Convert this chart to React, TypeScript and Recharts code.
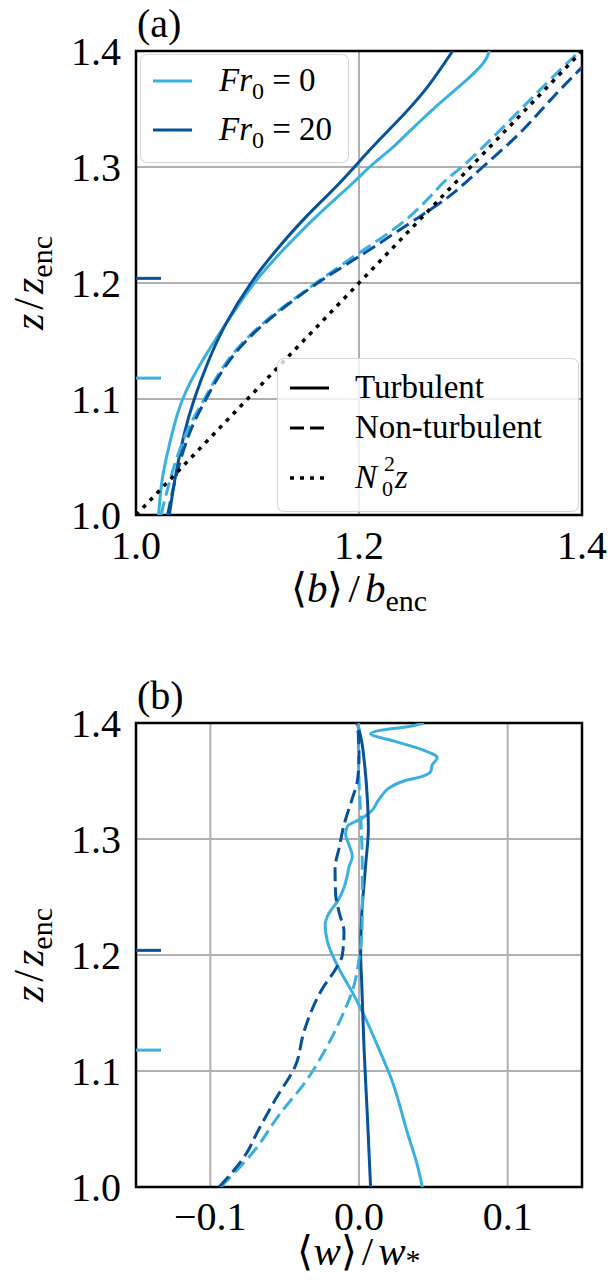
import React from "react";
import {
  LineChart,
  Line,
  XAxis,
  YAxis,
  CartesianGrid,
  ReferenceLine,
  ReferenceArea,
  Legend,
  Label,
} from "recharts";

const LIGHT = "#3cb0de";
const DARK = "#08519c";
const GRID = "#b0b0b0";
const FONT = "Liberation Serif";
const DASH = "14 6";
const DOT = "4 6";

// Fr0 values of the two runs, and the z/z_enc marks drawn on the left spine
const frValues = [0, 20];
const runColors = [LIGHT, DARK];
const zMarks = [1.118, 1.204];

// (a) <b>/b_enc against z/z_enc, pairs [b, z]
const bTurbFr0 = [
  [1.0203, 1.0], [1.0239, 1.033], [1.0323, 1.07], [1.0419, 1.1], [1.0583, 1.131],
  [1.0807, 1.165], [1.1061, 1.2], [1.1315, 1.228], [1.1614, 1.257], [1.1943, 1.286],
  [1.2095, 1.3], [1.228, 1.315], [1.237, 1.323], [1.269, 1.352], [1.293, 1.372],
  [1.311, 1.389], [1.317, 1.4],
];
const bTurbFr20 = [
  [1.0299, 1.0], [1.0353, 1.033], [1.0433, 1.07], [1.0523, 1.1], [1.0643, 1.131],
  [1.0807, 1.165], [1.1031, 1.2], [1.1256, 1.228], [1.1525, 1.257], [1.1824, 1.286],
  [1.21, 1.315], [1.232, 1.337], [1.259, 1.366], [1.284, 1.4],
];
const bNonFr0 = [
  [1.0224, 1.0], [1.0314, 1.033], [1.0448, 1.07], [1.0613, 1.1], [1.0807, 1.131],
  [1.1136, 1.165], [1.1614, 1.2], [1.2033, 1.228], [1.2451, 1.257], [1.275, 1.286],
  [1.2945, 1.302], [1.332, 1.337], [1.368, 1.372], [1.396, 1.398],
];
const bNonFr20 = [
  [1.0284, 1.0], [1.0359, 1.033], [1.0478, 1.07], [1.0628, 1.1], [1.0822, 1.131],
  [1.1151, 1.165], [1.1629, 1.2], [1.2003, 1.223], [1.2541, 1.257], [1.284, 1.277],
  [1.311, 1.3], [1.344, 1.329], [1.371, 1.357], [1.4, 1.386],
];
const bN0z = [[1.0, 1.0], [1.4, 1.4]];

// (b) <w>/w_* against z/z_enc, pairs [w, z]
const wTurbFr0 = [
  [0.0426, 1.0], [0.0392, 1.019], [0.0325, 1.047], [0.0224, 1.091], [0.0134, 1.119],
  [0.0034, 1.148], [-0.0045, 1.168], [-0.0134, 1.188], [-0.0213, 1.212], [-0.0228, 1.226],
  [-0.0202, 1.236], [-0.0146, 1.246], [-0.0101, 1.258], [-0.0078, 1.269], [-0.0067, 1.276],
  [-0.0045, 1.285], [-0.0067, 1.295], [-0.009, 1.304], [-0.0078, 1.311], [0.0022, 1.318],
  [0.009, 1.325], [0.0123, 1.332], [0.0157, 1.338], [0.0202, 1.344], [0.0302, 1.35],
  [0.0426, 1.354], [0.0482, 1.358], [0.0493, 1.364], [0.0526, 1.37], [0.0426, 1.377],
  [0.0246, 1.384], [0.0078, 1.391], [0.0157, 1.394], [0.0336, 1.397], [0.0437, 1.4],
];
const wTurbFr20 = [
  [0.0078, 1.0], [0.0056, 1.062], [0.0034, 1.119], [0.0018, 1.177], [0.0011, 1.2],
  [0.0018, 1.234], [0.0045, 1.278], [0.0063, 1.309], [0.0056, 1.335], [0.0038, 1.364],
  [0.0018, 1.384], [-0.0011, 1.4],
];
const wNonFr0 = [
  [-0.093, 1.0], [-0.0694, 1.033], [-0.0538, 1.062], [-0.0358, 1.091], [-0.0224, 1.119],
  [-0.0112, 1.148], [-0.004, 1.171], [0.0004, 1.2], [0.0022, 1.234], [0.0022, 1.278],
  [0.0011, 1.321], [0.0, 1.35], [-0.0004, 1.378], [-0.0004, 1.4],
];
const wNonFr20 = [
  [-0.0941, 1.0], [-0.0739, 1.033], [-0.0705, 1.042], [-0.056, 1.076], [-0.0426, 1.105],
  [-0.037, 1.134], [-0.0246, 1.171], [-0.0157, 1.188], [-0.0112, 1.2], [-0.0101, 1.22],
  [-0.0134, 1.237], [-0.0157, 1.252], [-0.0161, 1.275], [-0.0134, 1.292], [-0.0101, 1.312],
  [-0.0045, 1.335], [-0.0011, 1.35], [0.0, 1.37], [-0.0004, 1.39], [-0.0018, 1.4],
];

const zTicks = [1.0, 1.1, 1.2, 1.3, 1.4];
const bTicks = [1.0, 1.2, 1.4];
const wTicks = [-0.1, 0.0, 0.1];

const toPts = (arr: number[][]) => arr.map(([x, z]) => ({ x, z }));

const tickStyle = { fontSize: 40, fontFamily: FONT, fill: "#000" };

function fmt(v: number) {
  const s = Math.abs(v).toFixed(1);
  return v < -1e-9 ? "\u2212" + s : s;
}

function YLabel({ viewBox, tag }: any) {
  const vb = viewBox || { x: 76, y: 51, width: 60, height: 464 };
  const cy = vb.y + vb.height / 2;
  const lx = vb.x - 33;
  return (
    <g fontFamily={FONT} fill="#000">
      <text x={vb.x + vb.width + 1} y={vb.y - 14} fontSize={40}>
        {tag}
      </text>
      <text x={lx} y={cy} textAnchor="middle" fontSize={42} transform={`rotate(-90 ${lx} ${cy})`}>
        <tspan fontStyle="italic">z</tspan>
        <tspan dx={4}>/</tspan>
        <tspan dx={4} fontStyle="italic">z</tspan>
        <tspan dy={9} fontSize={30}>enc</tspan>
      </text>
    </g>
  );
}

function XLabel({ viewBox, sym, sub, dyLabel, subDy }: any) {
  const vb = viewBox || { x: 136, y: 515, width: 446, height: 100 };
  const cx = vb.x + vb.width / 2;
  return (
    <text x={cx} y={vb.y + dyLabel} textAnchor="middle" fontFamily={FONT} fontSize={41} fill="#000">
      <tspan>{"\u27e8"}</tspan>
      <tspan fontStyle="italic">{sym}</tspan>
      <tspan>{"\u27e9"}</tspan>
      <tspan dx={5}>/</tspan>
      <tspan dx={5} fontStyle="italic">{sym}</tspan>
      <tspan dy={subDy} fontSize={30}>
        {sub}
      </tspan>
    </text>
  );
}

function Sample({ color, dash, width = 3 }: { color: string; dash?: string; width?: number }) {
  return (
    <svg width={40} height={8} style={{ display: "block", position: "absolute", left: 12, top: -4 }}>
      <line x1={0} y1={4} x2={39} y2={4} stroke={color} strokeWidth={width} strokeDasharray={dash} />
    </svg>
  );
}

const boxStyle: React.CSSProperties = {
  position: "absolute",
  background: "rgba(255,255,255,0.8)",
  border: "1.5px solid rgba(204,204,204,0.8)",
  borderRadius: 7,
  boxSizing: "border-box",
  fontFamily: FONT,
  fontSize: 33,
  color: "#000",
  lineHeight: 1,
};

function Row({ top, textLeft, children }: any) {
  return (
    <div style={{ position: "absolute", left: 0, top, width: "100%", height: 0 }}>
      {children[0]}
      <div style={{ position: "absolute", left: textLeft, top: -17, whiteSpace: "nowrap" }}>{children[1]}</div>
    </div>
  );
}

function PanelALegend() {
  const styles = [
    { label: "Turbulent", dash: undefined },
    { label: "Non-turbulent", dash: DASH },
  ];
  return (
    <div style={{ position: "absolute", left: 0, top: 0, width: 0, height: 0 }}>
      <div style={{ ...boxStyle, left: 140, top: 54, width: 209, height: 109 }}>
        {frValues.map((fr, i) => (
          <Row key={fr} top={26 + i * 49} textLeft={78}>
            <Sample color={runColors[i]} />
            <span>
              <i>Fr</i>
              <span style={{ fontSize: 24, position: "relative", top: 8 }}>0</span>
              {" = " + fr}
            </span>
          </Row>
        ))}
      </div>
      <div style={{ ...boxStyle, left: 277, top: 358, width: 302, height: 154 }}>
        {styles.map((s, i) => (
          <Row key={s.label} top={29 + i * 40} textLeft={77}>
            <Sample color="#000" dash={s.dash} />
            <span>{s.label}</span>
          </Row>
        ))}
        <Row top={119} textLeft={77}>
          <Sample color="#000" dash={DOT} width={3.5} />
          <span style={{ position: "relative", display: "inline-block" }}>
            <i>N</i>
            <span style={{ display: "inline-block", width: 18 }} />
            <i>z</i>
            <span style={{ position: "absolute", left: 29, top: -8, fontSize: 22 }}>2</span>
            <span style={{ position: "absolute", left: 27, top: 17, fontSize: 22 }}>0</span>
          </span>
        </Row>
      </div>
    </div>
  );
}

export default function App() {
  return (
    <div style={{ position: "absolute", left: 0, top: 0, width: 613, height: 1280, background: "#fff" }}>
      <LineChart width={613} height={672} margin={{ top: 51, right: 31, left: 76, bottom: 0 }}>
        <CartesianGrid stroke={GRID} strokeWidth={2} />
        <XAxis
          type="number"
          dataKey="x"
          domain={[1.0, 1.4]}
          ticks={bTicks}
          tickFormatter={fmt}
          allowDataOverflow
          height={157}
          axisLine={false}
          tickLine={false}
          tickSize={0}
          tickMargin={16}
          tick={tickStyle}
        >
          <Label content={(p: any) => <XLabel viewBox={p.viewBox} sym="b" sub="enc" dyLabel={87} subDy={9} />} />
        </XAxis>
        <YAxis
          type="number"
          dataKey="z"
          domain={[1.0, 1.4]}
          ticks={zTicks}
          tickFormatter={fmt}
          allowDataOverflow
          width={60}
          axisLine={false}
          tickLine={false}
          tickSize={0}
          tickMargin={15}
          tick={tickStyle}
        >
          <Label content={(p: any) => <YLabel viewBox={p.viewBox} tag="(a)" />} />
        </YAxis>
        {zMarks.map((z, i) => (
          <ReferenceLine
            key={"ma" + i}
            segment={[{ x: 1.0, y: z }, { x: 1.0224, y: z }]}
            stroke={runColors[i]}
            strokeWidth={3}
          />
        ))}
        <Line data={toPts(bTurbFr0)} dataKey="z" type="natural" stroke={LIGHT} strokeWidth={3} dot={false} isAnimationActive={false} />
        <Line data={toPts(bTurbFr20)} dataKey="z" type="natural" stroke={DARK} strokeWidth={3} dot={false} isAnimationActive={false} />
        <Line data={toPts(bNonFr0)} dataKey="z" type="natural" stroke={LIGHT} strokeWidth={3} strokeDasharray={DASH} dot={false} isAnimationActive={false} />
        <Line data={toPts(bNonFr20)} dataKey="z" type="natural" stroke={DARK} strokeWidth={3} strokeDasharray={DASH} dot={false} isAnimationActive={false} />
        <Line data={toPts(bN0z)} dataKey="z" type="linear" stroke="#000" strokeWidth={3.5} strokeDasharray={DOT} dot={false} isAnimationActive={false} />
        <ReferenceArea x1={1.0} x2={1.4} y1={1.0} y2={1.4} fill="none" fillOpacity={0} stroke="#000" strokeWidth={2.5} />
        <Legend
          verticalAlign="top"
          align="left"
          layout="vertical"
          wrapperStyle={{ left: 0, top: 0, width: 0, height: 0 }}
          content={() => <PanelALegend />}
        />
      </LineChart>
      <LineChart width={613} height={608} margin={{ top: 51, right: 31, left: 76, bottom: 0 }}>
        <CartesianGrid stroke={GRID} strokeWidth={2} />
        <XAxis
          type="number"
          dataKey="x"
          domain={[-0.15, 0.15]}
          ticks={wTicks}
          tickFormatter={fmt}
          allowDataOverflow
          height={93}
          axisLine={false}
          tickLine={false}
          tickSize={0}
          tickMargin={15}
          tick={tickStyle}
        >
          <Label content={(p: any) => <XLabel viewBox={p.viewBox} sym="w" sub="*" dyLabel={78} subDy={5} />} />
        </XAxis>
        <YAxis
          type="number"
          dataKey="z"
          domain={[1.0, 1.4]}
          ticks={zTicks}
          tickFormatter={fmt}
          allowDataOverflow
          width={60}
          axisLine={false}
          tickLine={false}
          tickSize={0}
          tickMargin={15}
          tick={tickStyle}
        >
          <Label content={(p: any) => <YLabel viewBox={p.viewBox} tag="(b)" />} />
        </YAxis>
        {zMarks.map((z, i) => (
          <ReferenceLine
            key={"mb" + i}
            segment={[{ x: -0.15, y: z }, { x: -0.1332, y: z }]}
            stroke={runColors[i]}
            strokeWidth={3}
          />
        ))}
        <Line data={toPts(wTurbFr0)} dataKey="z" type="monotoneY" stroke={LIGHT} strokeWidth={3} dot={false} isAnimationActive={false} />
        <Line data={toPts(wTurbFr20)} dataKey="z" type="monotoneY" stroke={DARK} strokeWidth={3} dot={false} isAnimationActive={false} />
        <Line data={toPts(wNonFr0)} dataKey="z" type="monotoneY" stroke={LIGHT} strokeWidth={3} strokeDasharray={DASH} dot={false} isAnimationActive={false} />
        <Line data={toPts(wNonFr20)} dataKey="z" type="monotoneY" stroke={DARK} strokeWidth={3} strokeDasharray={DASH} dot={false} isAnimationActive={false} />
        <ReferenceArea x1={-0.15} x2={0.15} y1={1.0} y2={1.4} fill="none" fillOpacity={0} stroke="#000" strokeWidth={2.5} />
      </LineChart>
    </div>
  );
}
